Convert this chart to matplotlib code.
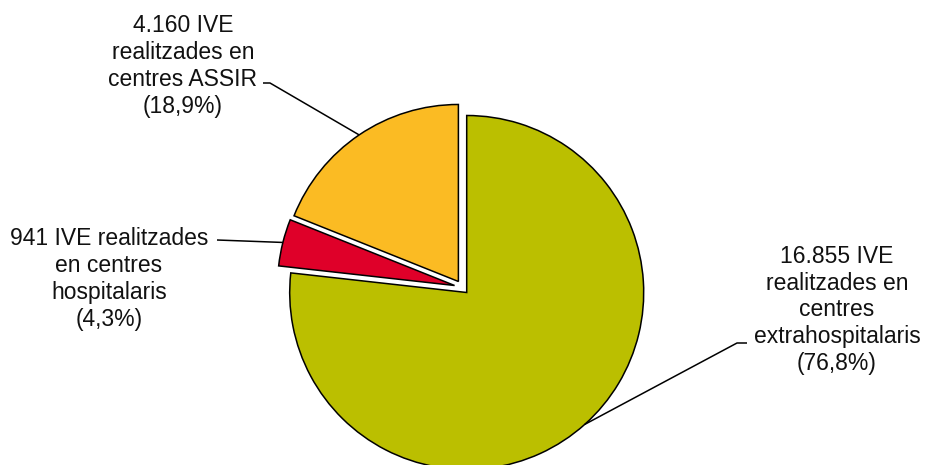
import numpy as np
import matplotlib
matplotlib.use("Agg")
import matplotlib.pyplot as plt

plt.rcParams['font.family'] = ['Liberation Sans', 'DejaVu Sans']

categories = ["extrahospitalaris", "hospitalaris", "ASSIR"]
values = [16855, 941, 4160]
percents = ["76,8%", "4,3%", "18,9%"]
labels = [
    "16.855 IVE\nrealitzades en\ncentres\nextrahospitalaris\n(76,8%)",
    "941 IVE realitzades\nen centres\nhospitalaris\n(4,3%)",
    "4.160 IVE\nrealitzades en\ncentres ASSIR\n(18,9%)",
]
colors = ["#BBBF00", "#DF0029", "#FBBB23"]
# slice offsets (distance in px, direction in degrees)
offset_dist = [0.0, 14.0, 13.8]
offset_dir = [0.0, 150.0, 127.0]

W, H = 927, 465
fig = plt.figure(figsize=(W / 100, H / 100), dpi=100)
ax = fig.add_axes([0, 0, 1, 1])

cx, cy, R = 466.7, H - 292.5, 177
wedges, _ = ax.pie(values, startangle=90, counterclock=False, colors=colors,
                   center=(cx, cy), radius=R, frame=True,
                   wedgeprops=dict(edgecolor='black', linewidth=1.1))
for w, d, a in zip(wedges, offset_dist, offset_dir):
    t = np.deg2rad(a)
    w.set_center((cx + d * np.cos(t), cy + d * np.sin(t)))

ax.set_xlim(0, W)
ax.set_ylim(0, H)
ax.set_aspect('equal')
ax.axis('off')

# label positions (text centers) and leader elbows (layout)
text_pos = [(837, H - 310), (109, H - 279), (183, H - 66)]
elbows = [[(737, H - 343), (747, H - 343)],
          [(217, H - 240)],
          [(270, H - 83), (263, H - 83)]]

for w, lab, tp, el in zip(wedges, labels, text_pos, elbows):
    ang = np.deg2rad((w.theta1 + w.theta2) / 2)
    x0 = w.center[0] + w.r * np.cos(ang)
    y0 = w.center[1] + w.r * np.sin(ang)
    xs = [x0] + [p[0] for p in el]
    ys = [y0] + [p[1] for p in el]
    ax.plot(xs, ys, color='black', linewidth=1.1, solid_capstyle='butt')
    ax.text(tp[0], tp[1], lab, ha='center', va='center', multialignment='center',
            fontsize=16.5, linespacing=1.22, color='#111111')

fig.savefig("out.png", dpi=100)
